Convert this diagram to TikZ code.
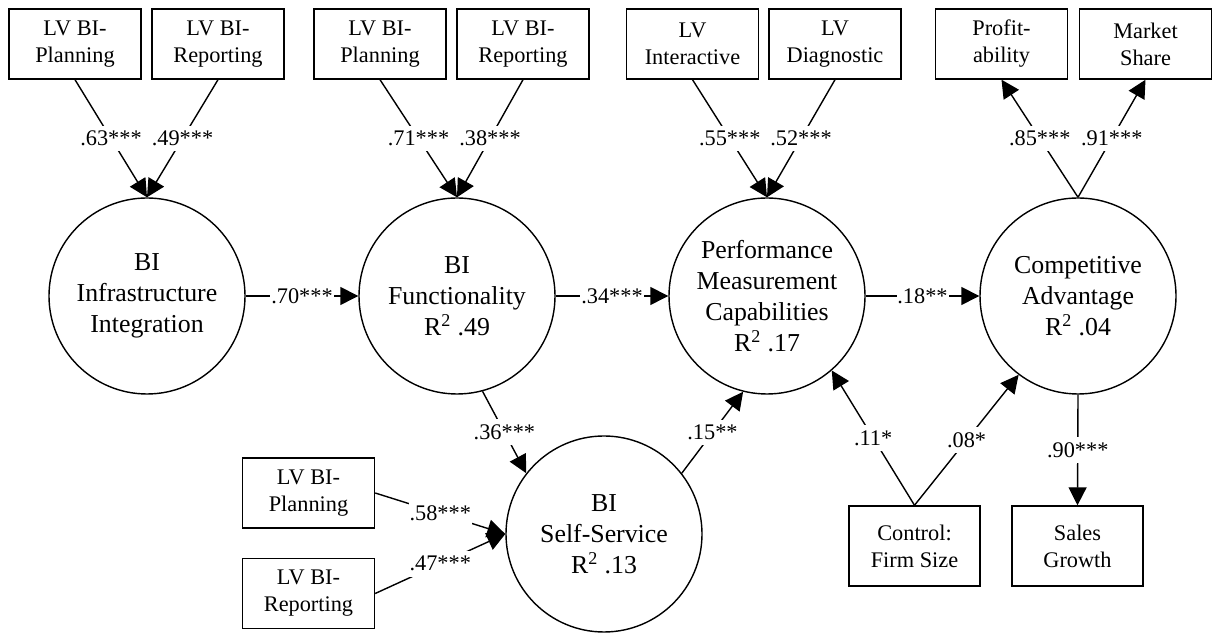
\documentclass[tikz,border=0pt]{standalone}
\usepackage{fontspec}
\setmainfont{Liberation Serif}
\usepackage{tikz}
\usetikzlibrary{arrows.meta}
\pgfdeclarelayer{bg}
\pgfsetlayers{bg,main}
\tikzset{latent/.style={draw, circle, line width=0.8pt, minimum size=3.92cm, inner sep=0mm, align=center, font=\fontsize{14.7}{17.6}\selectfont}}
\tikzset{indicator/.style={draw, rectangle, line width=0.8pt, minimum width=2.64cm, minimum height=1.4cm, inner sep=0mm, align=center, font=\fontsize{12.7}{15.3}\selectfont}}
\tikzset{coef/.style={fill=white, inner xsep=0.5pt, inner ysep=3pt, font=\fontsize{12.7}{15.3}\selectfont}}
\tikzset{link/.style={line width=0.8pt, -{Triangle[length=0.36cm, width=0.36cm]}}}

\begin{document}
\begin{tikzpicture}
    \useasboundingbox (0cm, 0cm) rectangle (24.28cm, 12.68cm);

    % constructs
    \node (infra) at (2.94cm, 6.76cm) [latent] {BI\\Infrastructure\\Integration};
    \node (func) at (9.14cm, 6.76cm) [latent] {BI\\Functionality\\R\textsuperscript{2} .49};
    \node (pmc) at (15.34cm, 6.76cm) [latent] {Performance\\Measurement\\Capabilities\\R\textsuperscript{2} .17};
    \node (ca) at (21.56cm, 6.76cm) [latent] {Competitive\\Advantage\\R\textsuperscript{2} .04};
    \node (ss) at (12.08cm, 2.00cm) [latent] {BI\\Self-Service\\R\textsuperscript{2} .13};

    % indicators
    \node (infraplan) at (1.50cm, 11.80cm) [indicator] {LV BI-\\Planning};
    \node (infrarep) at (4.36cm, 11.80cm) [indicator] {LV BI-\\Reporting};
    \node (funcplan) at (7.60cm, 11.80cm) [indicator] {LV BI-\\Planning};
    \node (funcrep) at (10.46cm, 11.80cm) [indicator] {LV BI-\\Reporting};
    \node (pmcint) at (13.85cm, 11.80cm) [indicator] {LV\\Interactive};
    \node (pmcdiag) at (16.70cm, 11.80cm) [indicator] {LV\\Diagnostic};
    \node (caprof) at (20.03cm, 11.80cm) [indicator] {Profit-\\ability};
    \node (cashare) at (22.91cm, 11.80cm) [indicator] {Market\\Share};
    \node (ssplan) at (6.17cm, 2.82cm) [indicator] {LV BI-\\Planning};
    \node (ssrep) at (6.17cm, 0.81cm) [indicator] {LV BI-\\Reporting};
    \node (ctrl) at (18.29cm, 1.76cm) [indicator, minimum width=2.62cm, minimum height=1.6cm] {Control:\\Firm Size};
    \node (sales) at (21.55cm, 1.76cm) [indicator, minimum width=2.62cm, minimum height=1.6cm] {Sales\\Growth};

    \begin{pgfonlayer}{bg}
        \draw (infraplan.south) edge [link] node [coef] {.63***} (infra.north);
        \draw (infrarep.south) edge [link] node [coef] {.49***} (infra.north);
        \draw (funcplan.south) edge [link] node [coef] {.71***} (func.north);
        \draw (funcrep.south) edge [link] node [coef] {.38***} (func.north);
        \draw (pmcint.south) edge [link] node [coef] {.55***} (pmc.north);
        \draw (pmcdiag.south) edge [link] node [coef] {.52***} (pmc.north);
        \draw (ca.north) edge [link] node [coef] {.85***} (caprof.south);
        \draw (ca.north) edge [link] node [coef] {.91***} (cashare.south);
        \draw (ssplan.east) edge [link] node [coef] {.58***} (ss.west);
        \draw (ssrep.east) edge [link] node [coef] {.47***} (ss.west);
    \end{pgfonlayer}

    % structural paths
    \draw (infra) edge [link] node [coef] {.70***} (func);
    \draw (func) edge [link] node [coef] {.34***} (pmc);
    \draw (pmc) edge [link] node [coef] {.18**} (ca);
    \draw (func.-75) edge [link] node [coef] {.36***} (ss.142);
    \draw (ss.38) edge [link] node [coef] {.15**} (pmc.-104);
    \draw (ctrl.north) edge [link] node [coef] {.11*} (pmc.-49);
    \draw (ctrl.north) edge [link] node [coef] {.08*} (ca.-127.6);
    \draw (ca.south) edge [link] node [coef] {.90***} (sales.north);
\end{tikzpicture}
\end{document}
